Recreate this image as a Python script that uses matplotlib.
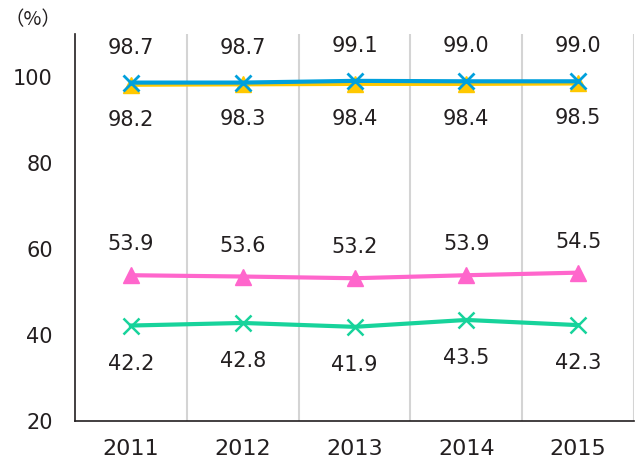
import matplotlib
matplotlib.use("Agg")
import matplotlib.pyplot as plt

# data
years = ["2011", "2012", "2013", "2014", "2015"]
blue_vals = [98.7, 98.7, 99.1, 99.0, 99.0]
yellow_vals = [98.2, 98.3, 98.4, 98.4, 98.5]
pink_vals = [53.9, 53.6, 53.2, 53.9, 54.5]
green_vals = [42.2, 42.8, 41.9, 43.5, 42.3]
yticks = [20, 40, 60, 80, 100]

plt.rcParams['font.family'] = ['DejaVu Sans']
txt_color = '#231f20'

fig = plt.figure(figsize=(6.39, 4.63), dpi=100)
ax = fig.add_axes([75/639, 42/463, 559/639, 387/463])

x = list(range(len(years)))

ax.plot(x, yellow_vals, color='#ffc800', lw=3, marker='^', ms=12, zorder=3)
ax.plot(x, blue_vals, color='#00a0dc', lw=3, marker='x', ms=11, mew=2, zorder=4)
ax.plot(x, pink_vals, color='#ff66cc', lw=3, marker='^', ms=12, zorder=3)
ax.plot(x, green_vals, color='#17d39b', lw=3, marker='x', ms=11, mew=1.8, zorder=3)

# data labels
def label(vals, dy):
    for i, v in enumerate(vals):
        ax.annotate(f"{v:.1f}", (i, v), xytext=(0, dy), textcoords='offset pixels',
                    ha='center', va='center', fontsize=15, color=txt_color)

label(blue_vals, 35)
label(yellow_vals, -35)
label(pink_vals, 31)
label(green_vals, -38)

ax.set_xlim(-0.5, len(years) - 0.5)
ax.set_ylim(20, 110)
ax.set_yticks(yticks)
ax.set_xticks(x)
ax.set_xticklabels(years)
ax.tick_params(length=0, labelsize=15, colors=txt_color)
ax.tick_params(axis='y', pad=16)
ax.tick_params(axis='x', pad=13, labelsize=16)

# vertical separators between categories
for b in [0.5, 1.5, 2.5, 3.5, 4.5]:
    ax.axvline(b, color='#d4d4d4', lw=1.5, zorder=1)

for s in ['top', 'right']:
    ax.spines[s].set_visible(False)
for s in ['left', 'bottom']:
    ax.spines[s].set_color(txt_color)
    ax.spines[s].set_linewidth(1.2)

fig.text(4/639, 1 - 20/463, "（%）", fontsize=14, color=txt_color, va='center', ha='left',
         family=['Noto Sans CJK JP', 'DejaVu Sans'])

fig.savefig("out.png", dpi=100)
